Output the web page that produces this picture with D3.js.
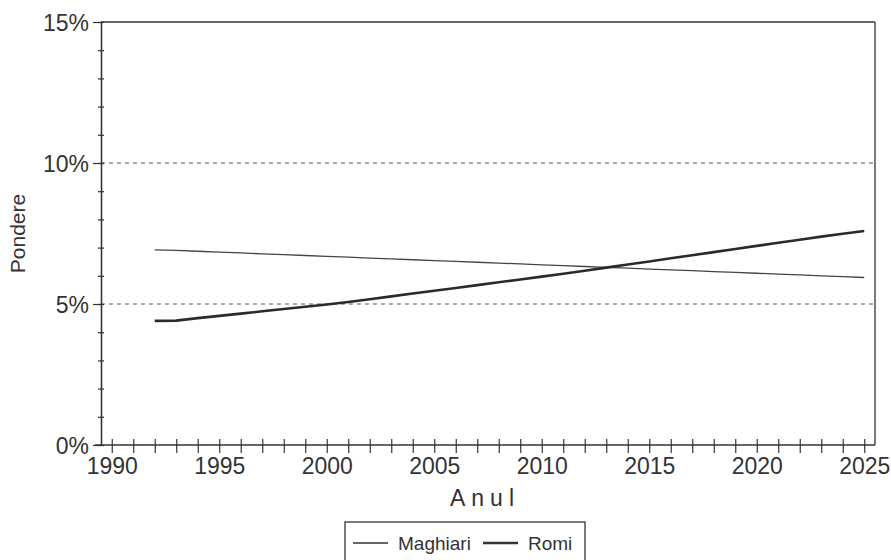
<!DOCTYPE html>
<html>
<head>
<meta charset="utf-8">
<script src="https://cdn.jsdelivr.net/npm/d3@7"></script>
<style>
  body { margin: 0; background: #fff; }
  svg { display: block; font-family: "Liberation Sans", Arial, sans-serif; }
</style>
</head>
<body>
<script>
// data (percent)
const years = [1992, 1993, 1994, 1995, 1996, 1997, 1998, 1999, 2000, 2001, 2002, 2003,
  2004, 2005, 2006, 2007, 2008, 2009, 2010, 2011, 2012, 2013, 2014, 2015, 2016, 2017,
  2018, 2019, 2020, 2021, 2022, 2023, 2024, 2025];
const maghiari = [6.92, 6.90, 6.87, 6.84, 6.81, 6.78, 6.75, 6.72, 6.69, 6.66, 6.63, 6.60,
  6.57, 6.54, 6.51, 6.48, 6.45, 6.42, 6.39, 6.36, 6.33, 6.30, 6.27, 6.24, 6.21, 6.18,
  6.15, 6.12, 6.09, 6.06, 6.03, 6.00, 5.97, 5.94];
const romi = [4.40, 4.41, 4.50, 4.58, 4.66, 4.74, 4.82, 4.90, 4.98, 5.07, 5.17, 5.27,
  5.37, 5.47, 5.57, 5.67, 5.77, 5.87, 5.97, 6.07, 6.18, 6.29, 6.40, 6.51, 6.62, 6.73,
  6.84, 6.95, 7.06, 7.17, 7.28, 7.39, 7.49, 7.59];
const yearTicks = [1990, 1995, 2000, 2005, 2010, 2015, 2020, 2025];
const pctTicks = [0, 5, 10, 15];
const gridTicks = [5, 10];
const seriesNames = ['Maghiari', 'Romi'];

const width = 891;
const height = 560;
const margin = { top: 22, right: 16, bottom: 115, left: 101 };
const innerWidth = width - margin.left - margin.right;
const innerHeight = height - margin.top - margin.bottom;
const ink = '#333';

const svg = d3.select('body').append('svg')
  .attr('width', width)
  .attr('height', height);

const g = svg.append('g')
  .attr('transform', `translate(${margin.left}, ${margin.top})`);

const xScale = d3.scaleLinear()
  .domain([1989.5, 2025.5])
  .range([0, innerWidth]);

const yScale = d3.scaleLinear()
  .domain([0, 15])
  .range([innerHeight, 0]);

// dashed gridlines
g.selectAll('.grid').data(gridTicks)
  .enter().append('line')
  .attr('class', 'grid')
  .attr('x1', 0)
  .attr('x2', innerWidth)
  .attr('y1', d => yScale(d))
  .attr('y2', d => yScale(d))
  .attr('stroke', '#555')
  .attr('stroke-width', 1)
  .attr('stroke-dasharray', '4,4');

// frame: top and right
g.append('line')
  .attr('x1', 0).attr('x2', innerWidth)
  .attr('y1', 0).attr('y2', 0)
  .attr('stroke', ink).attr('stroke-width', 1.3);
g.append('line')
  .attr('x1', innerWidth).attr('x2', innerWidth)
  .attr('y1', 0).attr('y2', innerHeight)
  .attr('stroke', ink).attr('stroke-width', 1.3);

// y axis: minor ticks every 1% crossing the axis, majors outside
const yMinor = d3.axisLeft(yScale)
  .tickValues(d3.range(0, 16))
  .tickSizeInner(3)
  .tickSizeOuter(0);
const yMinorG = g.append('g').call(yMinor);
yMinorG.selectAll('.tick text').remove();
yMinorG.selectAll('.tick line').attr('x2', 3).attr('x1', -3);

const yAxis = d3.axisLeft(yScale)
  .tickValues(pctTicks)
  .tickFormat(d => d + '%')
  .tickSizeInner(8)
  .tickSizeOuter(0)
  .tickPadding(4);
const yAxisG = g.append('g')
  .call(yAxis)
  .attr('font-size', 23)
  .attr('font-family', null);
yAxisG.selectAll('text')
  .attr('fill', ink)
  .attr('dy', '0.36em');

// x axis: year ticks crossing the axis
const xMinor = d3.axisBottom(xScale)
  .tickValues(d3.range(1990, 2026))
  .tickSizeOuter(0);
const xMinorG = g.append('g')
  .attr('transform', `translate(0, ${innerHeight})`)
  .call(xMinor);
xMinorG.selectAll('.tick text').remove();
xMinorG.selectAll('.tick line').attr('y1', -6).attr('y2', 8);
xMinorG.select('.domain').attr('d', `M-6,0H${innerWidth}`);

const xAxis = d3.axisBottom(xScale)
  .tickValues(yearTicks)
  .tickFormat(d3.format('d'))
  .tickSize(0)
  .tickPadding(13);
const xAxisG = g.append('g')
  .attr('transform', `translate(0, ${innerHeight})`)
  .call(xAxis)
  .attr('font-size', 23)
  .attr('font-family', null);
xAxisG.select('.domain').remove();
xAxisG.selectAll('text')
  .attr('fill', ink);

svg.selectAll('.domain').attr('stroke', ink).attr('stroke-width', 1.3);
svg.selectAll('.tick line').attr('stroke', ink).attr('stroke-width', 1.2);

// axis titles
svg.append('text')
  .attr('x', 485)
  .attr('y', 506)
  .attr('text-anchor', 'middle')
  .attr('font-size', 23)
  .attr('letter-spacing', 6)
  .attr('fill', ink)
  .text('Anul');

svg.append('text')
  .attr('transform', `translate(25, ${margin.top + innerHeight / 2}) rotate(-90)`)
  .attr('text-anchor', 'middle')
  .attr('font-size', 21)
  .attr('fill', ink)
  .text('Pondere');

// lines
const line = d3.line()
  .x(d => xScale(d[0]))
  .y(d => yScale(d[1]));

g.append('path')
  .datum(years.map((y, i) => [y, maghiari[i]]))
  .attr('fill', 'none')
  .attr('stroke', '#444')
  .attr('stroke-width', 1.3)
  .attr('d', line);

g.append('path')
  .datum(years.map((y, i) => [y, romi[i]]))
  .attr('fill', 'none')
  .attr('stroke', '#2a2a2a')
  .attr('stroke-width', 2.6)
  .attr('d', line);

// legend (box runs past the bottom edge, as in the original)
const legend = svg.append('g')
  .attr('transform', 'translate(345, 522)');
legend.append('rect')
  .attr('x', 0).attr('y', 0)
  .attr('width', 240).attr('height', 50)
  .attr('fill', 'none')
  .attr('stroke', ink)
  .attr('stroke-width', 1.3);

const legendItems = [
  { name: seriesNames[0], x: 8, w: 1.3 },
  { name: seriesNames[1], x: 138, w: 2.4 }
];
legend.selectAll('.lg-line').data(legendItems)
  .enter().append('line')
  .attr('x1', d => d.x)
  .attr('x2', d => d.x + 35)
  .attr('y1', 21).attr('y2', 21)
  .attr('stroke', ink)
  .attr('stroke-width', d => d.w);
legend.selectAll('.lg-text').data(legendItems)
  .enter().append('text')
  .attr('x', d => d.x + 45)
  .attr('y', 28)
  .attr('font-size', 19)
  .attr('fill', ink)
  .text(d => d.name);
</script>
</body>
</html>
